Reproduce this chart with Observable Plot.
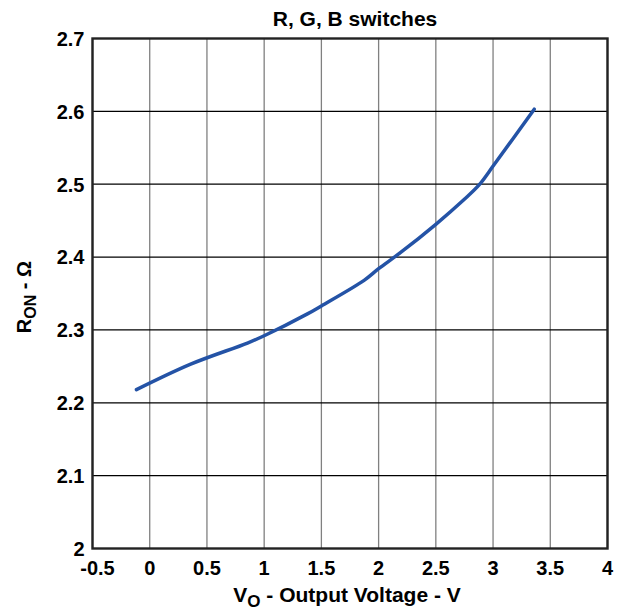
<!DOCTYPE html>
<html><head><meta charset="utf-8">
<script src="https://cdn.jsdelivr.net/npm/d3@7"></script>
<script src="https://cdn.jsdelivr.net/npm/@observablehq/plot@0.6"></script>
<style>
body{margin:0;background:#fff;}
svg{font-family:"Liberation Sans",Arial,sans-serif;}
</style>
</head><body><div id="chart"></div>
<script>
const vo = [-0.116, 0.358, 0.854, 1.0, 1.378, 1.5, 1.873, 2.0, 2.19, 2.5, 2.747, 2.878, 3.01, 3.36];
const ron = [2.218, 2.253, 2.282, 2.292, 2.322, 2.333, 2.368, 2.384, 2.406, 2.445, 2.479, 2.499, 2.527, 2.603];
const xTicks = [-0.5, 0, 0.5, 1, 1.5, 2, 2.5, 3, 3.5, 4];
const yTicks = [2, 2.1, 2.2, 2.3, 2.4, 2.5, 2.6, 2.7];
const title = "R, G, B switches";
const data = vo.map((v, i) => ({vo: v, ron: ron[i]}));

const chart = Plot.plot({
  width: 625, height: 611,
  marginLeft: 92, marginRight: 18, marginTop: 38, marginBottom: 63,
  style: {fontFamily: '"Liberation Sans", Arial, sans-serif', fontSize: "20px", fontWeight: "bold", color: "#000", background: "#fff"},
  x: {domain: [-0.5, 4], ticks: xTicks, tickFormat: d => String(d), label: null},
  y: {domain: [2, 2.7], ticks: yTicks, tickFormat: d => String(d), label: null},
  marks: [
    Plot.gridX(xTicks, {stroke: "#808080", strokeOpacity: 1, strokeWidth: 1.3}),
    Plot.gridY(yTicks, {stroke: "#000", strokeOpacity: 1, strokeWidth: 1.2}),
    Plot.axisX(xTicks, {tickSize: 0, tickPadding: 12, tickFormat: d => String(d), fontSize: 20, fontWeight: "bold"}),
    Plot.axisY(yTicks, {tickSize: 0, tickPadding: 8, dy: 1, tickFormat: d => String(d), fontSize: 20, fontWeight: "bold"}),
    Plot.frame({stroke: "#222", strokeWidth: 2.4}),
    Plot.line(data, {x: "vo", y: "ron", stroke: "#2453a6", strokeWidth: 3.5, curve: "catmull-rom"})
  ]
});
document.getElementById("chart").appendChild(chart);

const svg = d3.select(chart);
// nudge the leading negative label like the reference
svg.selectAll('g[aria-label="x-axis tick label"] text')
  .filter(function() { return this.textContent === "-0.5"; })
  .attr("dx", 5);
// title
svg.append("text").attr("x", 355).attr("y", 26).attr("text-anchor", "middle")
  .attr("font-size", 21).attr("font-weight", "bold").attr("fill", "#000").text(title);
// x axis label with subscript
const xl = svg.append("text").attr("x", 347).attr("y", 602).attr("text-anchor", "middle")
  .attr("font-size", 21).attr("font-weight", "bold").attr("fill", "#000");
xl.append("tspan").text("V");
xl.append("tspan").attr("dy", 5).attr("font-size", 17).text("O");
xl.append("tspan").attr("dy", -5).text(" - Output Voltage - V");
// y axis label with subscript
const yl = svg.append("text").attr("transform", "translate(31,297) rotate(-90)").attr("text-anchor", "middle")
  .attr("font-size", 20).attr("font-weight", "bold").attr("fill", "#000");
yl.append("tspan").text("R");
yl.append("tspan").attr("dy", 5).attr("font-size", 16).text("ON");
yl.append("tspan").attr("dy", -5).text(" - Ω");
</script></body></html>
